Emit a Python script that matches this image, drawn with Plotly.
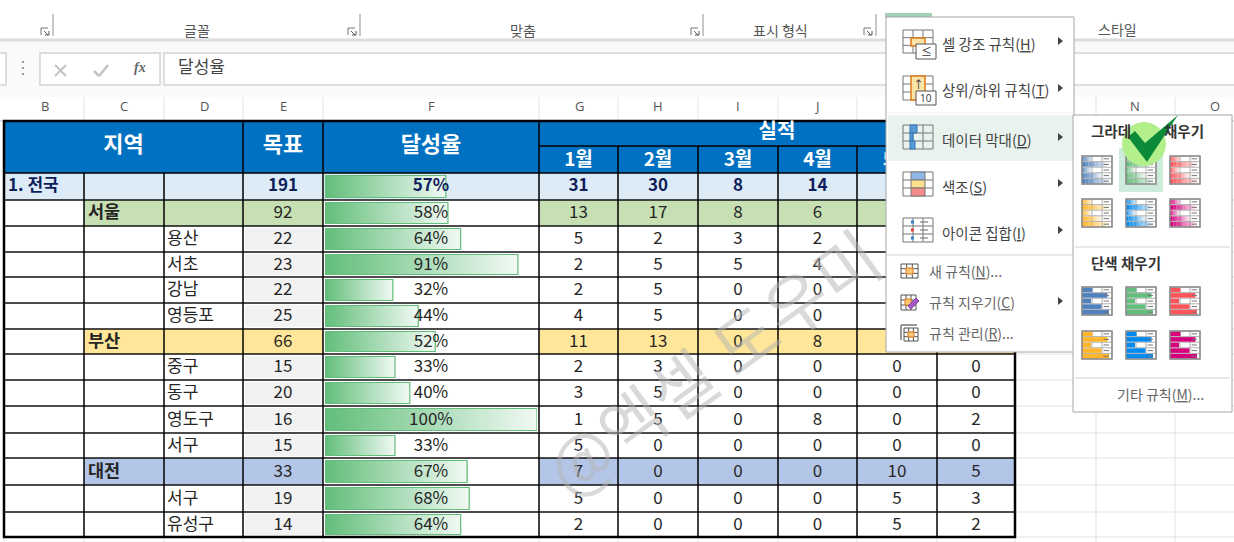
import plotly.graph_objects as go

# table values, one list per column (None = hidden behind the open menu)
level1 = ["1. 전국", "", "", "", "", "", "", "", "", "", "", "", "", ""]
level2 = ["", "서울", "", "", "", "", "부산", "", "", "", "", "대전", "", ""]
level3 = ["", "", "용산", "서초", "강남", "영등포", "", "중구", "동구", "영도구", "서구", "", "서구", "유성구"]
target = [191, 92, 22, 23, 22, 25, 66, 15, 20, 16, 15, 33, 19, 14]
rate = [57, 58, 64, 91, 32, 44, 52, 33, 40, 100, 33, 67, 68, 64]
jan = [31, 13, 5, 2, 2, 4, 11, 2, 3, 1, 5, 7, 5, 2]
feb = [30, 17, 2, 5, 5, 5, 13, 3, 5, 5, 0, 0, 0, 0]
mar = [8, 8, 3, 5, 0, 0, 0, 0, 0, 0, 0, 0, 0, 0]
apr = [14, 6, 2, 4, 0, 0, 8, 0, 0, 8, 0, 0, 0, 0]
may = [None, None, None, None, None, None, None, 0, 0, 0, 0, 10, 5, 5]
jun = [None, None, None, None, None, None, None, 0, 0, 2, 0, 5, 3, 2]
months = ["1월", "2월", "3월", "4월", "5월"]
col_letters = ["B", "C", "D", "E", "F", "G", "H", "I", "J", "N", "O"]

# sheet geometry in screen pixels
col_x = [4, 84, 164, 243, 323, 539, 618, 698, 778, 857, 937, 1015]
row_y = [173, 200, 226, 252, 277, 303, 329, 354, 380, 406, 433, 458, 485, 512, 537]
head_top, head_mid = 121, 146
bar_x0, bar_x1 = 325, 537

HEAD = "#0070C0"
BARC = "#63BE7B"
INK = "#262626"
FONT = "Noto Sans CJK KR"
row_fill = {0: "#DDEBF7", 1: "#C6E0B4", 6: "#FFE699", 11: "#B4C6E7"}

shapes = []
annos = []


def rect(x0, y0, x1, y1, fill=None, line=None, lw=1, layer="below"):
    shapes.append(dict(type="rect", x0=x0, y0=y0, x1=x1, y1=y1, xref="x", yref="y", layer=layer,
                       fillcolor=fill or "rgba(0,0,0,0)", line=dict(color=line or "rgba(0,0,0,0)", width=lw if line else 0)))


def seg(x0, y0, x1, y1, color, lw=1, layer="below"):
    shapes.append(dict(type="line", x0=x0, y0=y0, x1=x1, y1=y1, xref="x", yref="y", layer=layer,
                       line=dict(color=color, width=lw)))


def path(d, fill, line=None, lw=0, layer="above"):
    shapes.append(dict(type="path", path=d, xref="x", yref="y", layer=layer, fillcolor=fill,
                       line=dict(color=line or "rgba(0,0,0,0)", width=lw)))


def label(x, y, s, size=13, color="#444444", bold=False, anchor="left", family=FONT, angle=0, italic=False):
    annos.append(dict(x=x, y=y, xref="x", yref="y", text=s, showarrow=False, xanchor=anchor, yanchor="middle",
                      textangle=angle, font=dict(size=size, color=color, family=family,
                                                 weight="bold" if bold else "normal",
                                                 style="italic" if italic else "normal")))


# ---- ribbon and formula bar
rect(0, 38, 1234, 42, "#EDEDED")
seg(0, 40, 1234, 40, "#D9D9D9", 1.5)
rect(0, 42, 1234, 97, "#FAFAFA")
for x in [53, 360, 703, 876]:
    seg(x, 14, x, 36, "#8F8F8F")
    seg(x - 12, 28, x - 12, 35, "#777777")
    seg(x - 12, 28, x - 5, 28, "#777777")
    seg(x - 9, 31, x - 5, 35, "#555555")
    seg(x - 8, 35, x - 4, 35, "#555555")
    seg(x - 4, 31, x - 4, 35, "#555555")
label(197, 30, "글꼴", 14, "#555555", anchor="center")
label(523, 30, "맞춤", 14, "#555555", anchor="center")
label(780, 30, "표시 형식", 14, "#555555", anchor="center")
label(1117, 29, "스타일", 14, "#555555", anchor="center")

rect(-3, 53, 6, 85, "#FFFFFF", "#D4D4D4", 1.5)
rect(40, 53, 160, 85, "#FFFFFF", "#D4D4D4", 1.5)
rect(164, 53, 1240, 85, "#FFFFFF", "#D4D4D4", 1.5)
for y in [62, 68, 74]:
    rect(22, y - 1, 24, y + 1, "#9A9A9A")
seg(55, 65, 66, 76, "#C4C4C4", 2)
seg(66, 65, 55, 76, "#C4C4C4", 2)
seg(94, 71, 99, 76, "#C4C4C4", 2.5)
seg(99, 76, 108, 65, "#C4C4C4", 2.5)
label(140, 67, "<b>fx</b>", 14, "#666666", anchor="center", family="Liberation Serif", italic=True)
label(176, 65, "달성율", 17, "#444444")

# ---- column header strip
rect(0, 97, 1234, 121, "#FFFFFF")
for x in col_x[1:10] + [1096, 1175]:
    seg(x, 97, x, 121, "#E3E3E3")
seg(0, 121, 1234, 121, "#BDBDBD")
for name, x in zip(col_letters, [45, 124, 204, 283, 431, 579, 658, 738, 817, 1135, 1215]):
    label(x, 106, name, 13, "#555555", anchor="center", family="Open Sans")

# ---- empty sheet gridlines right of the table
for y in row_y:
    seg(col_x[-1], y, 1234, y, "#E3E3E3")
for x in [1096, 1175]:
    seg(x, 121, x, 542, "#E3E3E3")
for x in col_x:
    seg(x, 537, x, 542, "#E3E3E3")

# ---- table fills
rect(col_x[0], head_top, col_x[-1], row_y[0], HEAD)
for i, fill in row_fill.items():
    for c in range(1 if i else 0, 11):
        if c == 4 and i != 0:
            continue
        rect(col_x[c], row_y[i], col_x[c + 1], row_y[i + 1], fill)
for i in range(14):
    if i not in row_fill:
        rect(col_x[3] + 2, row_y[i] + 2, col_x[4] - 2, row_y[i + 1] - 2, "#F2F2F2")

# ---- table borders
for y in row_y[1:-1]:
    seg(col_x[0], y, col_x[-1], y, "#111111", 1.5)
seg(col_x[0], row_y[0], col_x[-1], row_y[0], "#000000", 1.5)
seg(col_x[5], head_mid, col_x[-1], head_mid, "#000000", 1.5)
for x in col_x[1:-1]:
    top = row_y[0]
    if x in col_x[3:6]:
        top = head_top
    elif x in col_x[6:]:
        top = head_mid
    seg(x, top, x, row_y[-1], "#000000", 1.5)
rect(col_x[0], head_top, col_x[-1], row_y[-1], None, "#000000", 2.5)

fig = go.Figure()

# ---- table text
y_mid = [(row_y[i] + row_y[i + 1]) / 2 for i in range(14)]
y_num = [y + 1 for y in y_mid]


def text_trace(xs, ys, vals, size, color, bold=False, pos="middle center", xaxis="x"):
    fig.add_trace(go.Scatter(x=xs, y=ys, text=vals, mode="text", textposition=pos, xaxis=xaxis, yaxis="y",
                             textfont=dict(size=size, color=color, family=FONT, weight="bold" if bold else "normal"),
                             hoverinfo="skip", showlegend=False))


centers = [(col_x[c] + col_x[c + 1]) / 2 for c in range(11)]
text_trace([(col_x[0] + col_x[3]) / 2, centers[3], centers[4]], [146, 146, 146], ["지역", "목표", "달성율"], 22, "#FFFFFF", True)
text_trace([(col_x[5] + col_x[-1]) / 2], [133], ["실적"], 20, "#FFFFFF", True)
text_trace(centers[5:10], [161] * 5, months, 19, "#FFFFFF", True)
text_trace([col_x[0] + 4], [y_mid[0]], [level1[0]], 17, "#0F1F5C", True, "middle right")
keep = [i for i in range(14) if level2[i]]
text_trace([col_x[1] + 4] * len(keep), [y_mid[i] + 1 for i in keep], [level2[i] for i in keep], 17.5, INK, True, "middle right")
keep = [i for i in range(14) if level3[i]]
text_trace([col_x[2] + 3] * len(keep), [y_mid[i] + 1 for i in keep], [level3[i] for i in keep], 17, INK, False, "middle right")
text_trace([centers[3]], [y_mid[0]], [target[0]], 17, "#0F1F5C", True)
text_trace([centers[3]] * 13, y_num[1:], target[1:], 17, INK)
for c, values in zip(range(5, 11), [jan, feb, mar, apr, may, jun]):
    if values[0] is not None:
        text_trace([centers[c]], [y_mid[0]], [values[0]], 17, "#0F1F5C", True)
    keep = [i for i in range(1, 14) if values[i] is not None]
    text_trace([centers[c]] * len(keep), [y_num[i] for i in keep], [values[i] for i in keep], 17, INK)

# ---- data bars: a value axis laid over column F, later bars paint over earlier ones to make the gradient
STEPS = 60
bar_h = [row_y[i + 1] - row_y[i] - 5 for i in range(14)]
for s in range(STEPS):
    t = s / (STEPS - 1)
    col = "rgb(%d,%d,%d)" % (99 + (240 - 99) * t, 190 + (249 - 190) * t, 123 + (243 - 123) * t)
    fig.add_trace(go.Bar(x=[v * (1 - s / STEPS) for v in rate], base=[v * s / STEPS for v in rate], y=y_mid, width=bar_h,
                         orientation="h", xaxis="x2", yaxis="y", marker=dict(color=col, line=dict(width=0)),
                         hoverinfo="skip", showlegend=False))
fig.add_trace(go.Bar(x=rate, y=y_mid, width=bar_h, orientation="h", xaxis="x2", yaxis="y",
                     marker=dict(color="rgba(0,0,0,0)", line=dict(color=BARC, width=1.2)),
                     hovertemplate="%{x}%<extra></extra>", showlegend=False))
text_trace([50], [y_mid[0]], ["%d%%" % rate[0]], 17, "#0F1F5C", True, xaxis="x2")
text_trace([50] * 13, y_num[1:], ["%d%%" % v for v in rate[1:]], 17, INK, xaxis="x2")

# ---- watermark
label(711, 360, "@엑셀 도우미", 68, "rgba(180,180,180,0.5)", anchor="center", angle=-36)

# ---- conditional formatting menu
A = "above"
rect(885, 13, 932, 18, "#A3CFB4", layer=A)
rect(886, 17, 1074, 352, "#FFFFFF", "#A6A6A6", 1, A)
rect(888, 115, 1073, 161, "#E9F3EE", layer=A)
seg(887, 255, 1073, 255, "#E1E1E1", 1.5, A)
seg(887, 113, 1073, 113, "#EFEFEF", 1, A)


def grid(x0, y0, x1, y1, nx, ny, color="#777777", lw=1):
    rect(x0, y0, x1, y1, None, color, lw, A)
    for k in range(1, nx):
        x = x0 + (x1 - x0) * k / nx
        seg(x, y0, x, y1, color, lw, A)
    for k in range(1, ny):
        y = y0 + (y1 - y0) * k / ny
        seg(x0, y, x1, y, color, lw, A)


# highlight rules
grid(903, 30, 933, 53, 3, 3)
rect(911, 38, 925, 46, "#FCE4A8", "#E07B1A", 1.5, A)
rect(916, 44, 936, 59, "#FFFFFF", "#555555", 1, A)
label(926, 51, "≤", 11, "#333333", anchor="center")
# top/bottom rules
grid(903, 76, 933, 100, 3, 3)
rect(911, 76, 925, 100, "#FCE4A8", "#E07B1A", 1.5, A)
rect(916, 91, 936, 105, "#FFFFFF", "#555555", 1, A)
label(926, 98, "10", 10, "#333333", anchor="center", family="Open Sans")
label(918, 84, "↑", 11, "#333333", anchor="center")
# data bars
grid(903, 125, 933, 149, 3, 3)
rect(910, 125, 917, 133, "#5B9BD5", "#2E75B6", 1, A)
rect(910, 133, 913, 141, "#5B9BD5", "#2E75B6", 1, A)
rect(910, 141, 915, 149, "#5B9BD5", "#2E75B6", 1, A)
# colour scales
grid(903, 172, 933, 196, 3, 3)
rect(911, 172, 925, 180, "#8FB8E8", "#777777", 1, A)
rect(911, 180, 925, 188, "#FBE08E", "#777777", 1, A)
rect(911, 188, 925, 196, "#F58A8A", "#777777", 1, A)
# icon sets
grid(903, 218, 933, 242, 3, 3)
for y, c in [(222, "#2E86D6"), (230, "#E8403A"), (238, "#2E86D6")]:
    rect(911, y - 1.5, 914, y + 1.5, c, layer=A)
    seg(920, y, 928, y, "#666666", 1, A)
# small icons
grid(901, 264, 918, 278, 3, 3, "#555555")
rect(906, 268, 913, 274, "#F9C878", "#E07B1A", 1, A)
grid(901, 295, 916, 310, 3, 3, "#555555")
rect(905, 299, 911, 305, "#F9C878", "#E07B1A", 1, A)
path("M 908 306 L 916 298 L 919 301 L 911 309 Z", "#A65AC8", "#8A3FAE", 1)
seg(901, 325, 901, 340, "#999999", 2, A)
seg(901, 325, 917, 325, "#999999", 2, A)
grid(904, 328, 918, 341, 3, 3, "#555555")
rect(908, 332, 914, 337, "#F9C878", "#E07B1A", 1, A)

MI = "#444444"
label(940, 43, "셀 강조 규칙(<u>H</u>)", 14.5, MI)
label(940, 89, "상위/하위 규칙(<u>T</u>)", 14.5, MI)
label(940, 139, "데이터 막대(<u>D</u>)", 14.5, MI)
label(940, 186, "색조(<u>S</u>)", 14.5, MI)
label(940, 232, "아이콘 집합(<u>I</u>)", 14.5, MI)
label(927, 271, "새 규칙(<u>N</u>)...", 14, "#666666")
label(927, 302, "규칙 지우기(<u>C</u>)", 14, "#666666")
label(927, 333, "규칙 관리(<u>R</u>)...", 14, "#666666")
for y in [41, 88, 137, 183, 230, 301]:
    path(f"M 1058 {y-4} L 1063 {y} L 1058 {y+4} Z", "#444444")

# ---- data bar submenu
rect(1073, 115, 1232, 412, "#FFFFFF", "#A6A6A6", 1, A)
seg(1075, 247, 1230, 247, "#E1E1E1", 1.5, A)
seg(1075, 378, 1230, 378, "#E1E1E1", 1.5, A)
rect(1119, 148, 1163, 192, "#CDEBDB", layer=A)
label(1089, 130, "그라데", 14.5, "#333333", True)
label(1162, 130, "채우기", 14.5, "#333333", True)
label(1089, 262, "단색 채우기", 14.5, "#333333", True)
label(1160, 394, "기타 규칙(<u>M</u>)...", 14, "#666666", anchor="center")


def gallery_icon(x0, y0, color, gradient):
    w, h = 30, 28
    rect(x0, y0, x0 + w, y0 + h, "#FFFFFF", layer=A)
    grid(x0, y0, x0 + w, y0 + h, 3, 5, "#B0B0B0", 1)
    for k, frac in enumerate([0.35, 0.85, 0.3, 0.65, 0.9]):
        y_a = y0 + h * k / 5
        if gradient:
            for j in range(8):
                shapes.append(dict(type="rect", x0=x0 + w * frac * j / 8, x1=x0 + w * frac * (j + 1) / 8,
                                   y0=y_a + 0.5, y1=y_a + h / 5 - 0.5, xref="x", yref="y", layer=A, fillcolor=color,
                                   opacity=1 - j / 8, line=dict(width=0)))
        else:
            rect(x0, y_a + 0.5, x0 + w * frac, y_a + h / 5 - 0.5, color, layer=A)
        seg(x0 + w * 0.72, y_a + h / 10, x0 + w * 0.9, y_a + h / 10, "#777777", 1, A)
    rect(x0, y0, x0 + w, y0 + h, None, "#8C8C8C", 1.5, A)


top_colors = ["#4F81BD", "#63BE7B", "#FF555A"]
low_colors = ["#FFB628", "#008AEF", "#D6007B"]
for cols, y_row, grad in [(top_colors, 156, True), (low_colors, 199, True), (top_colors, 287, False), (low_colors, 331, False)]:
    for x, c in zip([1082, 1126, 1170], cols):
        gallery_icon(x, y_row, c, grad)

# green check mark over the selected gradient
shapes.append(dict(type="circle", x0=1122, y0=122, x1=1166, y1=166, xref="x", yref="y", layer=A,
                   fillcolor="#B3F08C", line=dict(width=0)))
path("M 1128 137 L 1135 131 L 1145 143 L 1178 115 L 1147 162 Z", "#0B8A3A")

fig.update_layout(
    width=1234, height=542,
    margin=dict(l=0, r=0, t=0, b=0),
    paper_bgcolor="#FFFFFF", plot_bgcolor="rgba(0,0,0,0)",
    barmode="overlay", showlegend=False,
    xaxis=dict(range=[0, 1234], visible=False, fixedrange=True),
    xaxis2=dict(range=[0, 100], domain=[bar_x0 / 1234, bar_x1 / 1234], anchor="y", visible=False, fixedrange=True),
    yaxis=dict(range=[542, 0], visible=False, fixedrange=True),
    shapes=shapes, annotations=annos,
)

# the screenshot starts at the page corner, so drop the default body margin
fig.write_html("out.html", config={"displayModeBar": False}, post_script="document.body.style.margin='0';")
